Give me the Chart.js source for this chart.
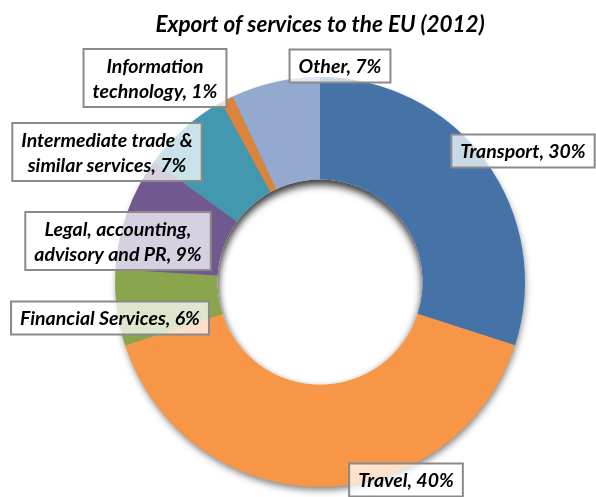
<!DOCTYPE html>
<html>
<head>
<meta charset="utf-8">
<script src="https://cdn.jsdelivr.net/npm/chart.js@4"></script>
<style>
  html, body { margin: 0; padding: 0; background: #fff; }
  #wrap { width: 596px; height: 497px; }
</style>
</head>
<body>
<div id="wrap"><canvas id="chart" width="596" height="497"></canvas></div>
<script>
// data
const categorias = ["Transport", "Travel", "Financial Services", "Legal, accounting, advisory and PR",
  "Intermediate trade & similar services", "Information technology", "Other"];
const valores = [30, 40, 6, 9, 7, 1, 7];
const colores = ["#4572A7", "#F79646", "#89A54E", "#71588F", "#4198AF", "#DB843D", "#93A9CF"];
const titulo = "Export of services to the EU (2012)";

// label lines as they wrap in the picture
const lineasEtiqueta = [
  ["Transport, 30%"],
  ["Travel, 40%"],
  ["Financial Services, 6%"],
  ["Legal, accounting,", "advisory and PR, 9%"],
  ["Intermediate trade &", "similar services, 7%"],
  ["Information", "technology, 1%"],
  ["Other, 7%"]
];
// where each label box sits (center)
const posEtiqueta = [[523, 151], [406, 480], [110, 318], [118, 241], [107, 152], [155, 78], [340, 66]];

const FUENTE = "Lato, 'DejaVu Sans', sans-serif";

const sombras = {
  id: "sombras",
  beforeDatasetsDraw(chart) {
    const arc = chart.getDatasetMeta(0).data[0];
    if (!arc) return;
    const { x, y, outerRadius, innerRadius } = arc.getProps(["x", "y", "outerRadius", "innerRadius"], true);
    const ctx = chart.ctx;
    ctx.save();
    ctx.shadowColor = "rgba(0,0,0,0.5)";
    ctx.shadowBlur = 7;
    ctx.shadowOffsetY = 4;
    ctx.shadowOffsetX = 1;
    ctx.fillStyle = "#888";
    ctx.beginPath();
    ctx.arc(x, y, outerRadius - 1, 0, Math.PI * 2);
    ctx.arc(x, y, innerRadius + 1, 0, Math.PI * 2, true);
    ctx.fill();
    ctx.restore();
  },
  afterDatasetsDraw(chart) {
    const arc = chart.getDatasetMeta(0).data[0];
    if (!arc) return;
    const { x, y, innerRadius } = arc.getProps(["x", "y", "innerRadius"], true);
    const ctx = chart.ctx;
    // sombra interior arriba del hueco
    ctx.save();
    ctx.beginPath();
    ctx.arc(x, y, innerRadius, 0, Math.PI * 2);
    ctx.clip();
    ctx.shadowColor = "rgba(0,0,0,0.6)";
    ctx.shadowBlur = 8;
    ctx.shadowOffsetY = 5;
    ctx.fillStyle = "#fff";
    ctx.beginPath();
    ctx.rect(x - innerRadius * 3, y - innerRadius * 3, innerRadius * 6, innerRadius * 6);
    ctx.arc(x, y, innerRadius, 0, Math.PI * 2, true);
    ctx.fill("evenodd");
    ctx.restore();
  }
};

const etiquetas = {
  id: "etiquetas",
  afterDraw(chart) {
    const ctx = chart.ctx;
    ctx.save();
    // titulo
    ctx.font = "italic bold 22.5px " + FUENTE;
    ctx.fillStyle = "#000";
    ctx.textAlign = "center";
    ctx.textBaseline = "middle";
    ctx.fillText(titulo, 320, 25);

    ctx.font = "italic bold 19.5px " + FUENTE;
    const altoLinea = 25;
    lineasEtiqueta.forEach((lineas, i) => {
      const [cx, cy] = posEtiqueta[i];
      const ancho = Math.max(...lineas.map(l => ctx.measureText(l).width)) + 18;
      const alto = lineas.length * altoLinea + 8;
      ctx.fillStyle = "rgba(255,255,255,0.72)";
      ctx.fillRect(cx - ancho / 2, cy - alto / 2, ancho, alto);
      ctx.strokeStyle = "#8a8a8a";
      ctx.lineWidth = 2;
      ctx.strokeRect(cx - ancho / 2, cy - alto / 2, ancho, alto);
      ctx.fillStyle = "#000";
      lineas.forEach((l, j) => {
        ctx.fillText(l, cx, cy + (j - (lineas.length - 1) / 2) * altoLinea + 1);
      });
    });
    ctx.restore();
  }
};

new Chart(document.getElementById("chart").getContext("2d"), {
  type: "doughnut",
  data: {
    labels: categorias,
    datasets: [{
      data: valores,
      backgroundColor: colores,
      borderWidth: 0,
      hoverOffset: 0
    }]
  },
  options: {
    responsive: false,
    animation: false,
    cutout: "50%",
    layout: { padding: { left: 115, right: 71, top: 77, bottom: 10 } },
    plugins: { legend: { display: false }, title: { display: false }, tooltip: { enabled: false } }
  },
  plugins: [sombras, etiquetas]
});
</script>
</body>
</html>
